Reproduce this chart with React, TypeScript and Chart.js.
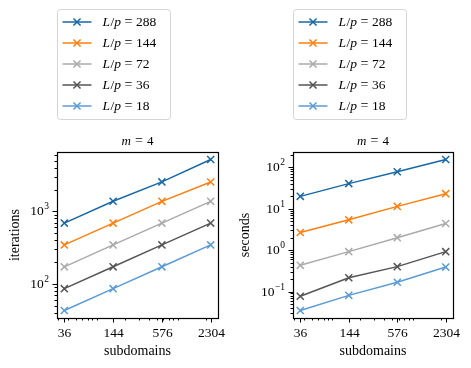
import React, { useEffect, useRef } from "react";
import { Chart, registerables } from "chart.js";
Chart.register(...registerables);

const subdomains = [36, 144, 576, 2304];
const ratioLabels = [288, 144, 72, 36, 18];
const seriesColors = ["#1767a6", "#ff7f0e", "#aaaaaa", "#555555", "#5b9bd5"];

const iterations288 = [690, 1380, 2550, 5190];
const iterations144 = [345, 690, 1375, 2545];
const iterations72 = [172, 345, 690, 1375];
const iterations36 = [86, 172, 345, 690];
const iterations18 = [43, 86, 172, 345];

const seconds288 = [19.9, 40.4, 78, 154];
const seconds144 = [2.67, 5.4, 11.4, 23.1];
const seconds72 = [0.43, 0.92, 2.0, 4.4];
const seconds36 = [0.077, 0.216, 0.4, 0.92];
const seconds18 = [0.035, 0.081, 0.168, 0.39];

const xTickValues = [36, 144, 576, 2304];
const xAxisTitle = "subdomains";
const leftYTitle = "iterations";
const rightYTitle = "seconds";
const panelTitleVar = "m";
const panelTitleValue = "4";

const FONT = "'Liberation Serif', 'DejaVu Serif', serif";

function logMargins(lo: number, hi: number): [number, number] {
  const a = Math.log10(lo);
  const b = Math.log10(hi);
  const m = (b - a) * 0.05;
  return [Math.pow(10, a - m), Math.pow(10, b + m)];
}

type Run = { t: string; it?: boolean; size?: number; dy?: number; gap?: number };

function runWidth(ctx: CanvasRenderingContext2D, r: Run, base: number) {
  if (r.gap !== undefined) return r.gap;
  ctx.font = `${r.it ? "italic " : ""}${r.size || base}px ${FONT}`;
  return ctx.measureText(r.t).width;
}

function drawRuns(
  ctx: CanvasRenderingContext2D,
  runs: Run[],
  x: number,
  y: number,
  align: "left" | "center" | "right",
  base: number
) {
  let w = 0;
  for (const r of runs) w += runWidth(ctx, r, base);
  let cx = align === "left" ? x : align === "center" ? x - w / 2 : x - w;
  ctx.textAlign = "left";
  ctx.textBaseline = "middle";
  for (const r of runs) {
    const rw = runWidth(ctx, r, base);
    if (r.gap === undefined) {
      ctx.font = `${r.it ? "italic " : ""}${r.size || base}px ${FONT}`;
      ctx.fillText(r.t, cx, y + (r.dy || 0));
    }
    cx += rw;
  }
}

function drawCrossRot(ctx: CanvasRenderingContext2D, x: number, y: number, r: number) {
  const o = Math.cos(Math.PI / 4) * r;
  ctx.beginPath();
  ctx.moveTo(x - o, y - o);
  ctx.lineTo(x + o, y + o);
  ctx.moveTo(x - o, y + o);
  ctx.lineTo(x + o, y - o);
  ctx.stroke();
}

function minorTicks(min: number, max: number) {
  const out: number[] = [];
  const d0 = Math.floor(Math.log10(min));
  const d1 = Math.ceil(Math.log10(max));
  for (let d = d0; d <= d1; d++) {
    for (let k = 2; k <= 9; k++) {
      const v = k * Math.pow(10, d);
      if (v >= min && v <= max) out.push(v);
    }
  }
  return out;
}

function majorDecades(min: number, max: number) {
  const out: number[] = [];
  for (let d = Math.ceil(Math.log10(min)); d <= Math.floor(Math.log10(max)); d++) out.push(d);
  return out;
}

type PanelProps = {
  series: number[][];
  yTitle: string;
  left: number;
  width: number;
  yTitleOffset: number;
};

function LogPanel({ series, yTitle, left, width, yTitleOffset }: PanelProps) {
  const ref = useRef<HTMLCanvasElement>(null);
  useEffect(() => {
    const allY = series.flat();
    const [ymin, ymax] = logMargins(Math.min(...allY), Math.max(...allY));
    const [xmin, xmax] = logMargins(subdomains[0], subdomains[subdomains.length - 1]);

    const decor = {
      id: "decor",
      afterDraw(chart: any) {
        const ctx: CanvasRenderingContext2D = chart.ctx;
        const a = chart.chartArea;
        const xs = chart.scales.x;
        const ys = chart.scales.y;
        ctx.save();
        ctx.strokeStyle = "#000";
        ctx.fillStyle = "#000";
        // frame
        ctx.lineWidth = 1.2;
        ctx.strokeRect(Math.round(a.left) + 0.5, Math.round(a.top) + 0.5, Math.round(a.right - a.left), Math.round(a.bottom - a.top));
        ctx.lineWidth = 1;
        // x ticks
        for (const v of minorTicks(xmin, xmax)) {
          const px = Math.round(xs.getPixelForValue(v)) + 0.5;
          ctx.beginPath();
          ctx.moveTo(px, a.bottom);
          ctx.lineTo(px, a.bottom + 2.5);
          ctx.stroke();
        }
        for (const v of xTickValues) {
          const px = Math.round(xs.getPixelForValue(v)) + 0.5;
          ctx.beginPath();
          ctx.moveTo(px, a.bottom);
          ctx.lineTo(px, a.bottom + 4.5);
          ctx.stroke();
          drawRuns(ctx, [{ t: String(v) }], px, a.bottom + 15, "center", 13.5);
        }
        // y ticks
        for (const v of minorTicks(ymin, ymax)) {
          const py = Math.round(ys.getPixelForValue(v)) + 0.5;
          ctx.beginPath();
          ctx.moveTo(a.left, py);
          ctx.lineTo(a.left - 2.5, py);
          ctx.stroke();
        }
        for (const d of majorDecades(ymin, ymax)) {
          const py = Math.round(ys.getPixelForValue(Math.pow(10, d))) + 0.5;
          ctx.beginPath();
          ctx.moveTo(a.left, py);
          ctx.lineTo(a.left - 4.5, py);
          ctx.stroke();
          const exp = d < 0 ? "\u2212" + Math.abs(d) : String(d);
          drawRuns(
            ctx,
            [{ t: "10" }, { gap: 0.5 }, { t: exp, size: 9.5, dy: -5 }],
            a.left - 8,
            py,
            "right",
            13.5
          );
        }
        // axis titles
        drawRuns(ctx, [{ t: xAxisTitle }], (a.left + a.right) / 2, a.bottom + 33, "center", 14);
        ctx.save();
        ctx.translate(a.left - yTitleOffset, (a.top + a.bottom) / 2);
        ctx.rotate(-Math.PI / 2);
        drawRuns(ctx, [{ t: yTitle }], 0, 0, "center", 14);
        ctx.restore();
        // panel title
        drawRuns(
          ctx,
          [
            { t: panelTitleVar, it: true },
            { gap: 4 },
            { t: "=", size: 14 },
            { gap: 4 },
            { t: panelTitleValue },
          ],
          (a.left + a.right) / 2,
          a.top - 10.5,
          "center",
          13
        );
        // legend
        const lx = Math.round(a.left) + 0.5;
        const ly = 9.5;
        const lw = 113;
        const lh = 110;
        ctx.beginPath();
        (ctx as any).roundRect(lx, ly, lw, lh, 3);
        ctx.fillStyle = "#fff";
        ctx.fill();
        ctx.strokeStyle = "#d5d5d5";
        ctx.lineWidth = 1;
        ctx.stroke();
        ratioLabels.forEach((lab, i) => {
          const y = 22 + i * 21;
          ctx.strokeStyle = seriesColors[i];
          ctx.lineWidth = 1.5;
          ctx.beginPath();
          ctx.moveTo(lx + 5, y);
          ctx.lineTo(lx + 34, y);
          ctx.stroke();
          drawCrossRot(ctx, lx + 19.5, y, 5);
          ctx.fillStyle = "#000";
          drawRuns(
            ctx,
            [
              { t: "L", it: true },
              { gap: 0.5 },
              { t: "/" },
              { t: "p", it: true },
              { gap: 3.5 },
              { t: "=", size: 14 },
              { gap: 3.5 },
              { t: String(lab) },
            ],
            lx + 45,
            y,
            "left",
            13.5
          );
        });
        ctx.restore();
      },
    };

    const chart = new Chart(ref.current as HTMLCanvasElement, {
      type: "line",
      data: {
        datasets: series.map((vals, i) => ({
          label: `L/p = ${ratioLabels[i]}`,
          data: subdomains.map((x, j) => ({ x, y: vals[j] })),
          borderColor: seriesColors[i],
          backgroundColor: seriesColors[i],
          borderWidth: 1.5,
          pointStyle: "crossRot",
          pointRadius: 5,
          pointHoverRadius: 5,
          pointBorderWidth: 1.5,
          pointBorderColor: seriesColors[i],
          fill: false,
          tension: 0,
        })),
      },
      options: {
        animation: false,
        responsive: false,
        events: [],
        layout: { padding: { top: 152, right: 18, left: 0, bottom: 0 } },
        plugins: {
          legend: { display: false },
          tooltip: { enabled: false },
          title: { display: false },
        },
        scales: {
          x: {
            type: "logarithmic",
            min: xmin,
            max: xmax,
            grid: { display: false },
            border: { display: false },
            ticks: { display: false },
            afterFit: (s: any) => {
              s.height = 50;
            },
          },
          y: {
            type: "logarithmic",
            min: ymin,
            max: ymax,
            grid: { display: false },
            border: { display: false },
            ticks: { display: false },
            afterFit: (s: any) => {
              s.width = 57;
            },
          },
        },
      } as any,
      plugins: [decor],
    });
    return () => chart.destroy();
  }, []);
  return (
    <canvas
      ref={ref}
      width={width}
      height={368}
      style={{ position: "absolute", left, top: 0, width, height: 368 }}
    />
  );
}

export default function App() {
  return (
    <div style={{ position: "absolute", left: 0, top: 0, width: 471, height: 368, background: "#fff" }}>
      <LogPanel
        series={[iterations288, iterations144, iterations72, iterations36, iterations18]}
        yTitle={leftYTitle}
        left={0}
        width={236}
        yTitleOffset={42}
      />
      <LogPanel
        series={[seconds288, seconds144, seconds72, seconds36, seconds18]}
        yTitle={rightYTitle}
        left={236}
        width={235}
        yTitleOffset={48}
      />
    </div>
  );
}
